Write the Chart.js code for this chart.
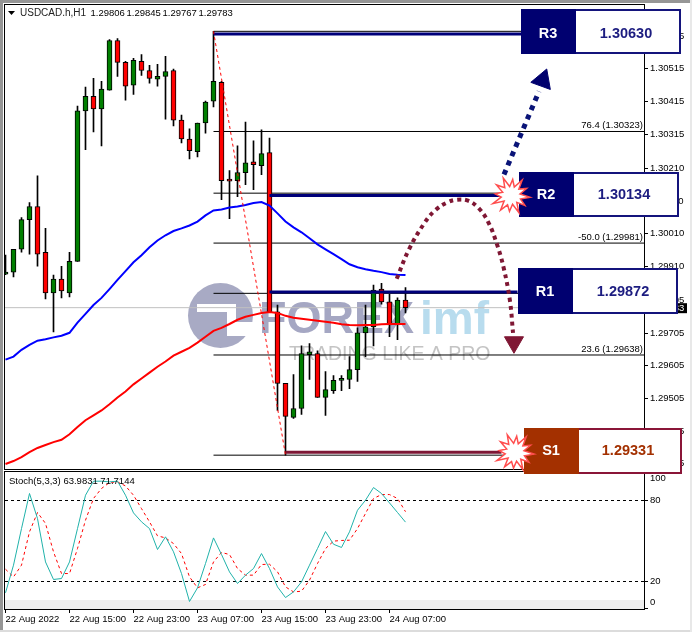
<!DOCTYPE html>
<html>
<head>
<meta charset="utf-8">
<title>USDCAD H1</title>
<script src="https://cdn.jsdelivr.net/npm/chart.js@4/dist/chart.umd.min.js"></script>
<style>
html,body{margin:0;padding:0;background:#fff;width:692px;height:632px;overflow:hidden}
#wrap{position:relative;width:692px;height:632px;background:#fff}
#edgeT{position:absolute;left:0;top:0;width:692px;height:3px;background:#969696}
#edgeL{position:absolute;left:0;top:0;width:3px;height:632px;background:#969696}
#edgeB{position:absolute;left:0;top:630px;width:692px;height:2px;background:#dcdcdc}
#edgeR{position:absolute;left:690px;top:0;width:2px;height:632px;background:#e8e8e8}
canvas{position:absolute;left:0;top:0}
#main{z-index:2}
#stoch{z-index:1}
</style>
</head>
<body>
<div id="wrap">
<div id="edgeT"></div><div id="edgeL"></div><div id="edgeB"></div><div id="edgeR"></div>
<canvas id="stoch" width="692" height="632"></canvas>
<canvas id="main" width="692" height="632"></canvas>
</div>
<script>
// ---------- data ----------
const symbolTitle = ['USDCAD.h,H1','1.29806','1.29845','1.29767','1.29783'];
const stochTitle = 'Stoch(5,3,3) 63.9831 71.7144';
const xTickIndex = [0,8,16,24,32,40,48];
const xTickLabels = ['22 Aug 2022','22 Aug 15:00','22 Aug 23:00','23 Aug 07:00','23 Aug 15:00','23 Aug 23:00','24 Aug 07:00'];
const priceTicks = [1.30615,1.30515,1.30415,1.30315,1.30210,1.30110,1.30010,1.29910,1.29805,1.29705,1.29605,1.29505,1.29405,1.29305];
const stochTicks = [0,20,80,100];

const opens = [1.29886,1.29892,1.29962,1.30053,1.30093,1.29953,1.29828,1.29871,1.29828,1.29925,
1.30386,1.30431,1.30392,1.30450,1.30602,1.30535,1.30465,1.30538,1.30510,1.30483,
1.30492,1.30510,1.30358,1.30300,1.30261,1.30349,1.30416,1.30474,1.30172,1.30172,
1.30197,1.30230,1.30218,1.30258,1.29770,1.29551,1.29447,1.29474,1.29639,1.29642,
1.29508,1.29529,1.29560,1.29563,1.29593,1.29706,1.29724,1.29840,1.29801,1.29730,1.29806];
const highs = [1.29944,1.29962,1.30059,1.30105,1.30187,1.30026,1.29883,1.29910,1.29953,1.30401,
1.30459,1.30486,1.30477,1.30605,1.30608,1.30538,1.30547,1.30559,1.30526,1.30529,
1.30553,1.30514,1.30373,1.30331,1.30349,1.30416,1.30630,1.30477,1.30203,1.30279,
1.30352,1.30294,1.30328,1.30303,1.29791,1.29551,1.29578,1.29666,1.29673,1.29651,
1.29587,1.29575,1.29575,1.29633,1.29721,1.29791,1.29852,1.29858,1.29825,1.29813,1.29845];
const lows = [1.29884,1.29877,1.29953,1.29947,1.29910,1.29810,1.29709,1.29813,1.29816,1.29925,
1.30267,1.30322,1.30279,1.30450,1.30492,1.30419,1.30437,1.30495,1.30471,1.30462,
1.30361,1.30340,1.30288,1.30239,1.30245,1.30318,1.30398,1.30114,1.30056,1.30123,
1.30160,1.30145,1.30191,1.29770,1.29468,1.29331,1.29444,1.29456,1.29563,1.29508,
1.29453,1.29520,1.29529,1.29535,1.29557,1.29633,1.29666,1.29794,1.29694,1.29685,1.29767];
const closes = [1.29892,1.29962,1.30053,1.30093,1.29947,1.29828,1.29871,1.29834,1.29925,1.30386,
1.30431,1.30392,1.30453,1.30602,1.30535,1.30462,1.30541,1.30510,1.30486,1.30492,
1.30507,1.30358,1.30300,1.30264,1.30349,1.30413,1.30477,1.30172,1.30171,1.30197,
1.30227,1.30221,1.30255,1.29770,1.29551,1.29450,1.29474,1.29642,1.29648,1.29508,
1.29532,1.29560,1.29561,1.29593,1.29706,1.29724,1.29837,1.29801,1.29730,1.29806,1.29783];

const blueMA = [1.29624,1.29633,1.29654,1.29669,1.29682,1.29686,1.29692,1.29697,1.29706,1.29737,
1.29764,1.29791,1.29813,1.29840,1.29868,1.29895,1.29922,1.29944,1.29968,1.29989,
1.30005,1.30018,1.30026,1.30035,1.30047,1.30066,1.30081,1.30084,1.30090,1.30093,
1.30098,1.30104,1.30107,1.30096,1.30072,1.30047,1.30029,1.30014,1.29996,1.29977,
1.29962,1.29947,1.29932,1.29916,1.29907,1.29901,1.29896,1.29892,1.29886,1.29884,1.29883];
const redMA = [1.29304,1.29313,1.29325,1.29340,1.29353,1.29362,1.29371,1.29378,1.29395,1.29417,
1.29438,1.29453,1.29468,1.29487,1.29508,1.29526,1.29548,1.29566,1.29584,1.29602,
1.29618,1.29636,1.29648,1.29660,1.29676,1.29694,1.29712,1.29721,1.29733,1.29746,
1.29755,1.29761,1.29767,1.29770,1.29767,1.29758,1.29752,1.29749,1.29746,1.29743,
1.29740,1.29737,1.29732,1.29730,1.29729,1.29730,1.29730,1.29732,1.29733,1.29733,1.29733];

const stochK = [11.6,32.1,59.2,85.2,66.6,34.5,21.5,22.2,34.5,59.2,83.9,94.3,94.3,93.8,94.3,83.9,70.8,64.2,59.2,43.7,
53.1,42.0,25.9,5.2,15.3,33.3,52.3,40.0,27.1,18.5,24.7,29.6,40.7,29.6,16.0,8.1,12.3,19.7,32.1,44.4,
57.0,47.6,45.2,56.8,72.8,80.2,89.6,85.2,78.2,71.1,63.98];
const stochD = [29.1,23.4,32.1,56.8,71.1,63.0,42.0,25.9,25.9,44.4,65.4,81.5,88.9,93.3,93.8,90.8,83.9,74.0,64.2,53.8,
52.3,48.1,40.7,23.4,15.3,17.8,34.5,41.5,40.0,29.6,24.7,24.7,32.6,32.8,27.2,16.0,12.3,12.8,21.0,33.3,
44.4,49.9,50.4,50.6,59.2,70.4,81.5,84.4,84.4,81.5,71.71];

const fibPrices = [1.30630,1.30323,1.30134,1.29981,1.29827,1.29638,1.29331];
const fibStartIndex = 26;
const fibTexts = [['76.4 (1.30323)',1.30323],['-50.0 (1.29981)',1.29981],['23.6 (1.29638)',1.29638]];
const trendIndex = [26,35];
const trendPrice = [1.30630,1.29331];

const levelNames = ['R3','R2','R1','S1'];
const levelTexts = ['1.30630','1.30134','1.29872','1.29331'];
const levelPrice = [1.30622,1.30127,1.29831,1.29340];
const levelFrom = [26,33,33,35];
const levelTo = [64.5,62,64,62];

const upArrowIndex = [62.31,66.69];
const upArrowPrice = [1.30191,1.30446];
const upHeadIndex = [67.14];
const upHeadPrice = [1.30480];
const arcIndex = [48.9,50.44,52.44,53.78,55.19,56.44,57.81,59.06,60.31,61.48,62.31,63.06,63.44];
const arcPrice = [1.298715,1.29962,1.30045,1.30083,1.30105,1.30114,1.30111,1.30090,1.30047,1.29974,1.29901,1.298035,1.29706];
const downHeadIndex = [63.56];
const downHeadPrice = [1.29677];
const lastPrice = 1.29783;

// ---------- helpers ----------
const FONT = '"Liberation Sans", Arial, sans-serif';
Chart.defaults.font.family = FONT;
Chart.defaults.font.size = 9.5;
Chart.defaults.color = '#000';
const xRange = {min:-0.0625, max:79.8125};
const xy = (xs, ys) => xs.map((x,i)=>({x, y:ys[i]}));
const series = ys => ys.map((y,i)=>({x:i, y}));
const lineBase = {type:'line', pointRadius:0, pointHoverRadius:0, fill:false, tension:0};

const datasets = [];
datasets.push({...lineBase, label:'Last', data:xy([xRange.min,xRange.max],[lastPrice,lastPrice]), borderColor:'#c0c0c0', borderWidth:1, order:20});
fibPrices.forEach((p,i)=>datasets.push({...lineBase, label:'Fib '+p, data:xy([fibStartIndex,xRange.max],[p,p]), borderColor:'#000', borderWidth:1, order:19}));
datasets.push({type:'bar', label:'Wick', data:highs.map((h,i)=>({x:i,y:[lows[i],h]})), backgroundColor:'#000', borderWidth:0, barThickness:1, grouped:false, minBarLength:1, order:18});
datasets.push({type:'bar', label:'Body', data:opens.map((o,i)=>({x:i,y:[o,closes[i]]})),
  backgroundColor:opens.map((o,i)=>closes[i]>=o?'#007f00':'#ff0000'), borderColor:'#000', borderWidth:1, borderSkipped:false, barThickness:5, grouped:false, minBarLength:2, order:17});
datasets.push({...lineBase, label:'MA blue', data:series(blueMA), borderColor:'#0000ff', borderWidth:2, order:16});
datasets.push({...lineBase, label:'MA red', data:series(redMA), borderColor:'#ff0000', borderWidth:2, order:15});
levelPrice.forEach((p,i)=>datasets.push({...lineBase, label:levelNames[i], data:xy([levelFrom[i],levelTo[i]],[p,p]), borderColor:i===3?'#7d1735':'#00007a', borderWidth:3, order:14}));
datasets.push({...lineBase, label:'Trend', data:xy(trendIndex,trendPrice), borderColor:'#ff0000', borderWidth:1, borderDash:[3,3], order:13});
datasets.push({...lineBase, label:'Arrow up', data:xy(upArrowIndex,upArrowPrice), borderColor:'#0a1478', borderWidth:5, borderDash:[5,5], order:12});
datasets.push({...lineBase, label:'Arc', data:xy(arcIndex,arcPrice), borderColor:'#7f1734', borderWidth:4, borderDash:[4,4], tension:0.4, order:12});
datasets.push({...lineBase, label:'Head up', data:xy(upHeadIndex,upHeadPrice), showLine:false, pointStyle:'triangle', pointRadius:12, pointRotation:20, pointBackgroundColor:'#00006e', pointBorderColor:'#00006e', order:11});
datasets.push({...lineBase, label:'Head down', data:xy(downHeadIndex,downHeadPrice), showLine:false, pointStyle:'triangle', pointRadius:11, pointRotation:180, pointBackgroundColor:'#7f1734', pointBorderColor:'#7f1734', order:11});

function text(ctx,str,x,y,font,color,align){
  ctx.font=font; ctx.fillStyle=color; ctx.textAlign=align||'left'; ctx.textBaseline='middle'; ctx.fillText(str,x,y);
}
function levelBox(ctx,b,i,center){
  const fill = i===3?'#a33000':'#000070', edge = i===3?'#8a1538':'#14147c', valueColor = i===3?'#a33000':'#1c1c80';
  ctx.fillStyle='#fff'; ctx.fillRect(b.l,b.t,b.r-b.l,b.b-b.t);
  ctx.strokeStyle=edge; ctx.lineWidth=2; ctx.strokeRect(b.l+1,b.t+1,b.r-b.l-2,b.b-b.t-2);
  ctx.fillStyle=fill; ctx.fillRect(b.l,b.t,b.d-b.l,b.b-b.t);
  text(ctx,levelNames[i],(b.l+b.d)/2-0.5,center,'bold 14.5px '+FONT,'#fff','center');
  text(ctx,levelTexts[i],(b.d+b.r)/2-2.5,center,'bold 14.5px '+FONT,valueColor,'center');
}
const starRadii = [19,10,17,9,19,9,16,10,18,9,20,10,16,9,18,10,19,9,16,9,19,10,17,9];
function star(ctx,cx,cy){
  ctx.beginPath();
  starRadii.forEach((r,i)=>{const a=i/starRadii.length*Math.PI*2+0.1; const x=cx+Math.cos(a)*r,y=cy+Math.sin(a)*r; i?ctx.lineTo(x,y):ctx.moveTo(x,y);});
  ctx.closePath(); ctx.fillStyle='#fff'; ctx.fill(); ctx.strokeStyle='#ff4d4d'; ctx.lineWidth=1.5; ctx.stroke();
}
const boxes = [
 {l:521,r:681,t:9,b:54,d:576},
 {l:519,r:679,t:172,b:217,d:574},
 {l:518,r:678,t:268,b:314,d:573},
 {l:524,r:682,t:428,b:474,d:579}];
const watermark = {
  id:'watermark',
  beforeDatasetsDraw(chart){
    const ctx=chart.ctx, a=chart.chartArea; ctx.save();
    ctx.beginPath(); ctx.rect(a.left,a.top,a.right-a.left,a.bottom-a.top); ctx.clip();
    ctx.fillStyle='#a8aac4'; ctx.beginPath(); ctx.arc(220.5,315.5,32.5,0,Math.PI*2); ctx.fill();
    ctx.fillStyle='#fff';
    ctx.fillRect(197,304,39,8); ctx.fillRect(227,312,9,24);
    ctx.fillRect(236,322,20,14);
    text(ctx,'FOREX',259,321,'bold 45px '+FONT,'#a5a7c3');
    text(ctx,'imf',420,321,'bold 46px '+FONT,'#b8dcee');
    text(ctx,'TRADING LIKE A PRO',289,355,'19.5px '+FONT,'#c4c4c4');
    ctx.restore();
  },
  afterDraw(chart){
    const ctx=chart.ctx, y=chart.scales.y, x=chart.scales.x; ctx.save();
    ctx.strokeStyle='#000'; ctx.lineWidth=1;
    ctx.strokeRect(4.5,4.5,640,465);
    // title
    ctx.fillStyle='#000'; ctx.beginPath(); ctx.moveTo(8,11); ctx.lineTo(15,11); ctx.lineTo(11.5,15); ctx.closePath(); ctx.fill();
    text(ctx,symbolTitle[0],20,13,'10px '+FONT,'#222');
    [90.5,126.5,162.5,198.5].forEach((px,i)=>text(ctx,symbolTitle[i+1],px,13,'9.5px '+FONT,'#000'));
    // fib labels
    fibTexts.forEach(t=>text(ctx,t[0],643,y.getPixelForValue(t[1])-6,'9.5px '+FONT,'#000','right'));
    // last price tag
    const py=y.getPixelForValue(lastPrice);
    ctx.fillStyle='#000'; ctx.fillRect(645,py-4.5,42,10);
    text(ctx,lastPrice.toFixed(5),650,py+0.5,'9.5px '+FONT,'#fff');
    // level boxes
    boxes.forEach((b,i)=>levelBox(ctx,b,i,y.getPixelForValue(levelPrice[i])+(i===3?-1:0)));
    star(ctx,x.getPixelForValue(63.2),y.getPixelForValue(levelPrice[1]));
    star(ctx,x.getPixelForValue(63.7),y.getPixelForValue(levelPrice[3]));
    ctx.restore();
  }
};
const priceChart = new Chart(document.getElementById('main'),{
  data:{datasets},
  options:{
    responsive:false, animation:false, devicePixelRatio:1,
    layout:{autoPadding:false,padding:{left:5,top:5,right:0,bottom:163}},
    plugins:{legend:{display:false},tooltip:{enabled:false}},
    events:[],
    scales:{
      x:{type:'linear',min:xRange.min,max:xRange.max,offset:false,display:false,grid:{offset:false}},
      y:{type:'linear',position:'right',min:1.292886,max:1.307024,
         afterFit(s){s.width=48;},
         afterBuildTicks(s){s.ticks=priceTicks.map(value=>({value}));},
         grid:{drawOnChartArea:false,drawTicks:true,tickLength:4,tickColor:'#000',color:'#000'},
         border:{display:true,color:'#000',width:1},
         ticks:{padding:2,color:'#000',autoSkip:false,callback:v=>v.toFixed(5),font:{size:9.5}}}
    }
  },
  plugins:[watermark]
});

// ---------- stochastic pane ----------
const stochPane = {
  id:'stochPane',
  beforeDraw(chart){
    const s=chart.scales.y;
    s.getLabelItems().forEach(it=>{
      if(it._moved) return; it._moved=true;
      if(it.label==='100') it.options.translation[1]+=4.5;
      if(it.label==='0') it.options.translation[1]-=6;
    });
  },
  beforeDatasetsDraw(chart){
    const ctx=chart.ctx,a=chart.chartArea,y=chart.scales.y;
    ctx.save(); ctx.fillStyle='#eeeeee';
    const t=y.getPixelForValue(6.3); ctx.fillRect(a.left,t,a.right-a.left,a.bottom-t);
    ctx.restore();
  },
  afterDraw(chart){
    const ctx=chart.ctx; ctx.save();
    ctx.strokeStyle='#000'; ctx.lineWidth=1; ctx.strokeRect(4.5,471.5,640,138);
    text(ctx,stochTitle,9,481,'9.5px '+FONT,'#000');
    ctx.restore();
  }
};
const stochChart = new Chart(document.getElementById('stoch'),{
  data:{datasets:[
    {...lineBase,label:'80',data:xy([xRange.min,xRange.max],[80,80]),borderColor:'#000',borderWidth:1,borderDash:[3,3],order:3},
    {...lineBase,label:'20',data:xy([xRange.min,xRange.max],[20,20]),borderColor:'#000',borderWidth:1,borderDash:[3,3],order:3},
    {...lineBase,label:'%D',data:series(stochD),borderColor:'#ff0000',borderWidth:1,borderDash:[3,3],order:2},
    {...lineBase,label:'%K',data:series(stochK),borderColor:'#20b2aa',borderWidth:1,order:1}
  ]},
  options:{
    responsive:false, animation:false, devicePixelRatio:1,
    layout:{autoPadding:false,padding:{left:5,top:472,right:0,bottom:0}},
    plugins:{legend:{display:false},tooltip:{enabled:false}},
    events:[],
    scales:{
      x:{type:'linear',min:xRange.min,max:xRange.max,
         afterFit(s){s.height=23;},
         afterBuildTicks(s){s.ticks=xTickIndex.map(value=>({value}));},
         grid:{drawOnChartArea:false,drawTicks:true,tickLength:4,tickColor:'#000',color:'#000'},
         border:{display:true,color:'#000'},
         ticks:{align:'start',padding:1,maxRotation:0,minRotation:0,autoSkip:false,color:'#000',
                callback:v=>xTickLabels[xTickIndex.indexOf(v)],font:{size:9.5}}},
      y:{type:'linear',position:'right',min:-0.37,max:101.11,
         afterFit(s){s.width=48;},
         afterBuildTicks(s){s.ticks=stochTicks.map(value=>({value}));},
         grid:{drawOnChartArea:false,drawTicks:true,tickLength:4,tickColor:'#000',color:'#000'},
         border:{display:true,color:'#000'},
         ticks:{padding:2,color:'#000',autoSkip:false,callback:v=>String(v),font:{size:9.5}}}
    }
  },
  plugins:[stochPane]
});
</script>
</body>
</html>
